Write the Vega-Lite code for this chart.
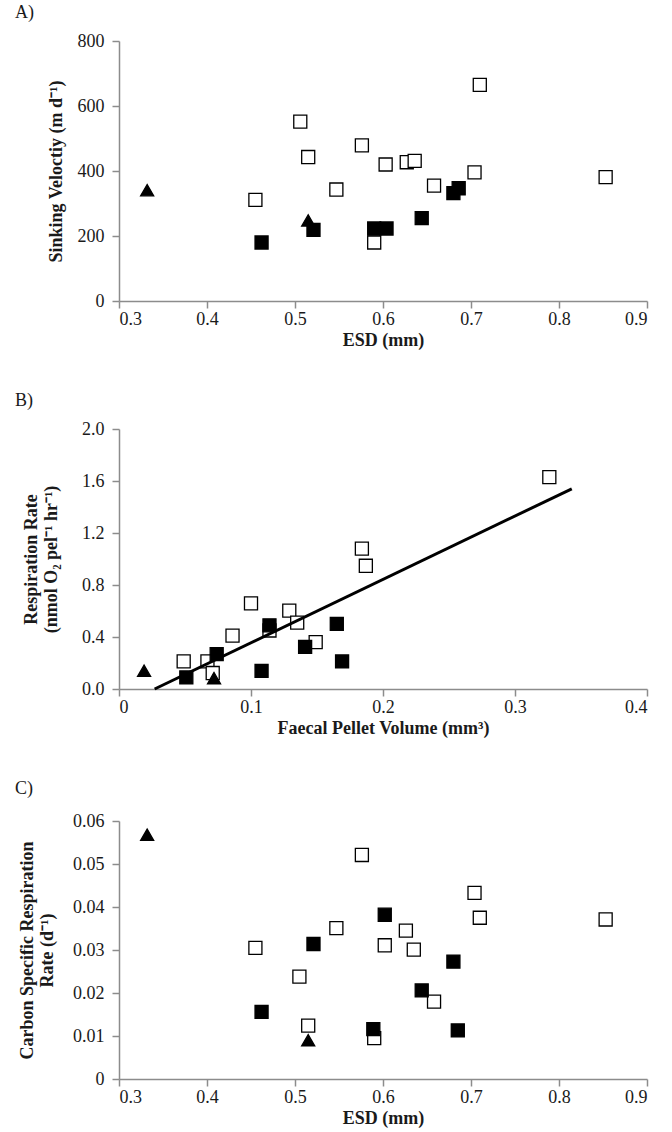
{
  "$schema": "https://vega.github.io/schema/vega-lite/v6.json",
  "background": "white",
  "padding": {"left": 15, "top": 4, "right": 5, "bottom": 5},
  "config": {
    "font": "Liberation Serif",
    "view": {"stroke": null},
    "axis": {
      "grid": false,
      "domainColor": "#8c8c8c",
      "domainWidth": 1.5,
      "tickColor": "#8c8c8c",
      "tickWidth": 1.5,
      "tickSize": 7,
      "labelFont": "Liberation Serif",
      "labelFontSize": 18,
      "labelColor": "#1a1a1a",
      "titleFont": "Liberation Serif",
      "titleFontSize": 18,
      "titleFontWeight": "bold",
      "titleColor": "#1a1a1a"
    },
    "axisX": {"labelPadding": 2, "titlePadding": 3},
    "axisY": {"labelPadding": 8, "titlePadding": 12},
    "title": {"font": "Liberation Serif", "fontSize": 18, "fontWeight": "normal", "color": "#1a1a1a", "anchor": "start", "frame": "group", "dx": -104, "offset": 10},
    "concat": {"spacing": 43}
  },
  "datasets": {
    "A": [
      {"x": 0.455, "y": 311, "type": "open"},
      {"x": 0.506, "y": 552, "type": "open"},
      {"x": 0.515, "y": 443, "type": "open"},
      {"x": 0.547, "y": 343, "type": "open"},
      {"x": 0.576, "y": 479, "type": "open"},
      {"x": 0.590, "y": 180, "type": "open"},
      {"x": 0.603, "y": 420, "type": "open"},
      {"x": 0.627, "y": 427, "type": "open"},
      {"x": 0.636, "y": 431, "type": "open"},
      {"x": 0.658, "y": 355, "type": "open"},
      {"x": 0.704, "y": 396, "type": "open"},
      {"x": 0.710, "y": 665, "type": "open"},
      {"x": 0.853, "y": 381, "type": "open"},
      {"x": 0.462, "y": 180, "type": "filled"},
      {"x": 0.521, "y": 219, "type": "filled"},
      {"x": 0.590, "y": 223, "type": "filled"},
      {"x": 0.604, "y": 223, "type": "filled"},
      {"x": 0.644, "y": 255, "type": "filled"},
      {"x": 0.680, "y": 332, "type": "filled"},
      {"x": 0.686, "y": 347, "type": "filled"},
      {"x": 0.332, "y": 341, "type": "tri"},
      {"x": 0.515, "y": 248, "type": "tri"}
    ],
    "B": [
      {"x": 0.049, "y": 0.212, "type": "open"},
      {"x": 0.067, "y": 0.212, "type": "open"},
      {"x": 0.071, "y": 0.123, "type": "open"},
      {"x": 0.086, "y": 0.411, "type": "open"},
      {"x": 0.100, "y": 0.659, "type": "open"},
      {"x": 0.114, "y": 0.450, "type": "open"},
      {"x": 0.129, "y": 0.603, "type": "open"},
      {"x": 0.135, "y": 0.511, "type": "open"},
      {"x": 0.149, "y": 0.360, "type": "open"},
      {"x": 0.184, "y": 1.080, "type": "open"},
      {"x": 0.187, "y": 0.948, "type": "open"},
      {"x": 0.326, "y": 1.630, "type": "open"},
      {"x": 0.051, "y": 0.089, "type": "filled"},
      {"x": 0.074, "y": 0.268, "type": "filled"},
      {"x": 0.108, "y": 0.140, "type": "filled"},
      {"x": 0.114, "y": 0.490, "type": "filled"},
      {"x": 0.141, "y": 0.324, "type": "filled"},
      {"x": 0.165, "y": 0.501, "type": "filled"},
      {"x": 0.169, "y": 0.212, "type": "filled"},
      {"x": 0.019, "y": 0.140, "type": "tri"},
      {"x": 0.072, "y": 0.084, "type": "tri"}
    ],
    "Bline": [
      {"x": 0.027, "y": 0.0},
      {"x": 0.343, "y": 1.54}
    ],
    "C": [
      {"x": 0.455, "y": 0.0305, "type": "open"},
      {"x": 0.505, "y": 0.0238, "type": "open"},
      {"x": 0.515, "y": 0.0124, "type": "open"},
      {"x": 0.547, "y": 0.0351, "type": "open"},
      {"x": 0.576, "y": 0.0521, "type": "open"},
      {"x": 0.590, "y": 0.0095, "type": "open"},
      {"x": 0.602, "y": 0.0311, "type": "open"},
      {"x": 0.626, "y": 0.0345, "type": "open"},
      {"x": 0.635, "y": 0.0301, "type": "open"},
      {"x": 0.658, "y": 0.0180, "type": "open"},
      {"x": 0.704, "y": 0.0433, "type": "open"},
      {"x": 0.710, "y": 0.0375, "type": "open"},
      {"x": 0.853, "y": 0.0371, "type": "open"},
      {"x": 0.462, "y": 0.0156, "type": "filled"},
      {"x": 0.521, "y": 0.0314, "type": "filled"},
      {"x": 0.589, "y": 0.0116, "type": "filled"},
      {"x": 0.602, "y": 0.0382, "type": "filled"},
      {"x": 0.644, "y": 0.0206, "type": "filled"},
      {"x": 0.680, "y": 0.0273, "type": "filled"},
      {"x": 0.685, "y": 0.0113, "type": "filled"},
      {"x": 0.332, "y": 0.0568, "type": "tri"},
      {"x": 0.515, "y": 0.0090, "type": "tri"}
    ]
  },
  "vconcat": [
    {
      "title": {"text": "A)"},
      "width": 528,
      "height": 260,
      "data": {"name": "A"},
      "mark": {"type": "point", "filled": true, "stroke": "black", "strokeWidth": 1.3, "opacity": 1, "size": 170},
      "encoding": {
        "x": {"field": "x", "type": "quantitative", "scale": {"domain": [0.3, 0.9], "nice": false, "zero": false}, "axis": {"title": "ESD (mm)", "values": [0.3, 0.4, 0.5, 0.6, 0.7, 0.8, 0.9], "format": "~g"}},
        "y": {"field": "y", "type": "quantitative", "scale": {"domain": [0, 800], "nice": false}, "axis": {"title": "Sinking Veloctiy (m d⁻¹)", "values": [0, 200, 400, 600, 800], "format": "d"}},
        "shape": {"field": "type", "type": "nominal", "scale": {"domain": ["open", "filled", "tri"], "range": ["square", "square", "triangle-up"]}, "legend": null},
        "fill": {"field": "type", "type": "nominal", "scale": {"domain": ["open", "filled", "tri"], "range": ["white", "black", "black"]}, "legend": null}
      }
    },
    {
      "title": {"text": "B)"},
      "width": 528,
      "height": 260,
      "layer": [
        {
          "data": {"name": "B"},
          "mark": {"type": "point", "filled": true, "stroke": "black", "strokeWidth": 1.3, "opacity": 1, "size": 170},
          "encoding": {
            "x": {"field": "x", "type": "quantitative", "scale": {"domain": [0, 0.4], "nice": false}, "axis": {"title": "Faecal Pellet Volume (mm³)", "values": [0, 0.1, 0.2, 0.3, 0.4], "format": "~g"}},
            "y": {"field": "y", "type": "quantitative", "scale": {"domain": [0, 2.0], "nice": false}, "axis": {"title": ["Respiration Rate", "(nmol O₂ pel⁻¹ hr⁻¹)"], "titlePadding": 21, "values": [0, 0.4, 0.8, 1.2, 1.6, 2.0], "format": ".1f"}},
            "shape": {"field": "type", "type": "nominal", "scale": {"domain": ["open", "filled", "tri"], "range": ["square", "square", "triangle-up"]}, "legend": null},
            "fill": {"field": "type", "type": "nominal", "scale": {"domain": ["open", "filled", "tri"], "range": ["white", "black", "black"]}, "legend": null}
          }
        },
        {
          "data": {"name": "Bline"},
          "mark": {"type": "line", "color": "black", "strokeWidth": 3},
          "encoding": {
            "x": {"field": "x", "type": "quantitative"},
            "y": {"field": "y", "type": "quantitative"}
          }
        }
      ]
    },
    {
      "title": {"text": "C)", "offset": 14},
      "width": 528,
      "height": 258,
      "data": {"name": "C"},
      "mark": {"type": "point", "filled": true, "stroke": "black", "strokeWidth": 1.3, "opacity": 1, "size": 170},
      "encoding": {
        "x": {"field": "x", "type": "quantitative", "scale": {"domain": [0.3, 0.9], "nice": false, "zero": false}, "axis": {"title": "ESD (mm)", "values": [0.3, 0.4, 0.5, 0.6, 0.7, 0.8, 0.9], "format": "~g"}},
        "y": {"field": "y", "type": "quantitative", "scale": {"domain": [0, 0.06], "nice": false}, "axis": {"title": ["Carbon Specific Respiration", "Rate (d⁻¹)"], "titlePadding": 16, "values": [0, 0.01, 0.02, 0.03, 0.04, 0.05, 0.06], "format": "~g"}},
        "shape": {"field": "type", "type": "nominal", "scale": {"domain": ["open", "filled", "tri"], "range": ["square", "square", "triangle-up"]}, "legend": null},
        "fill": {"field": "type", "type": "nominal", "scale": {"domain": ["open", "filled", "tri"], "range": ["white", "black", "black"]}, "legend": null}
      }
    }
  ]
}
